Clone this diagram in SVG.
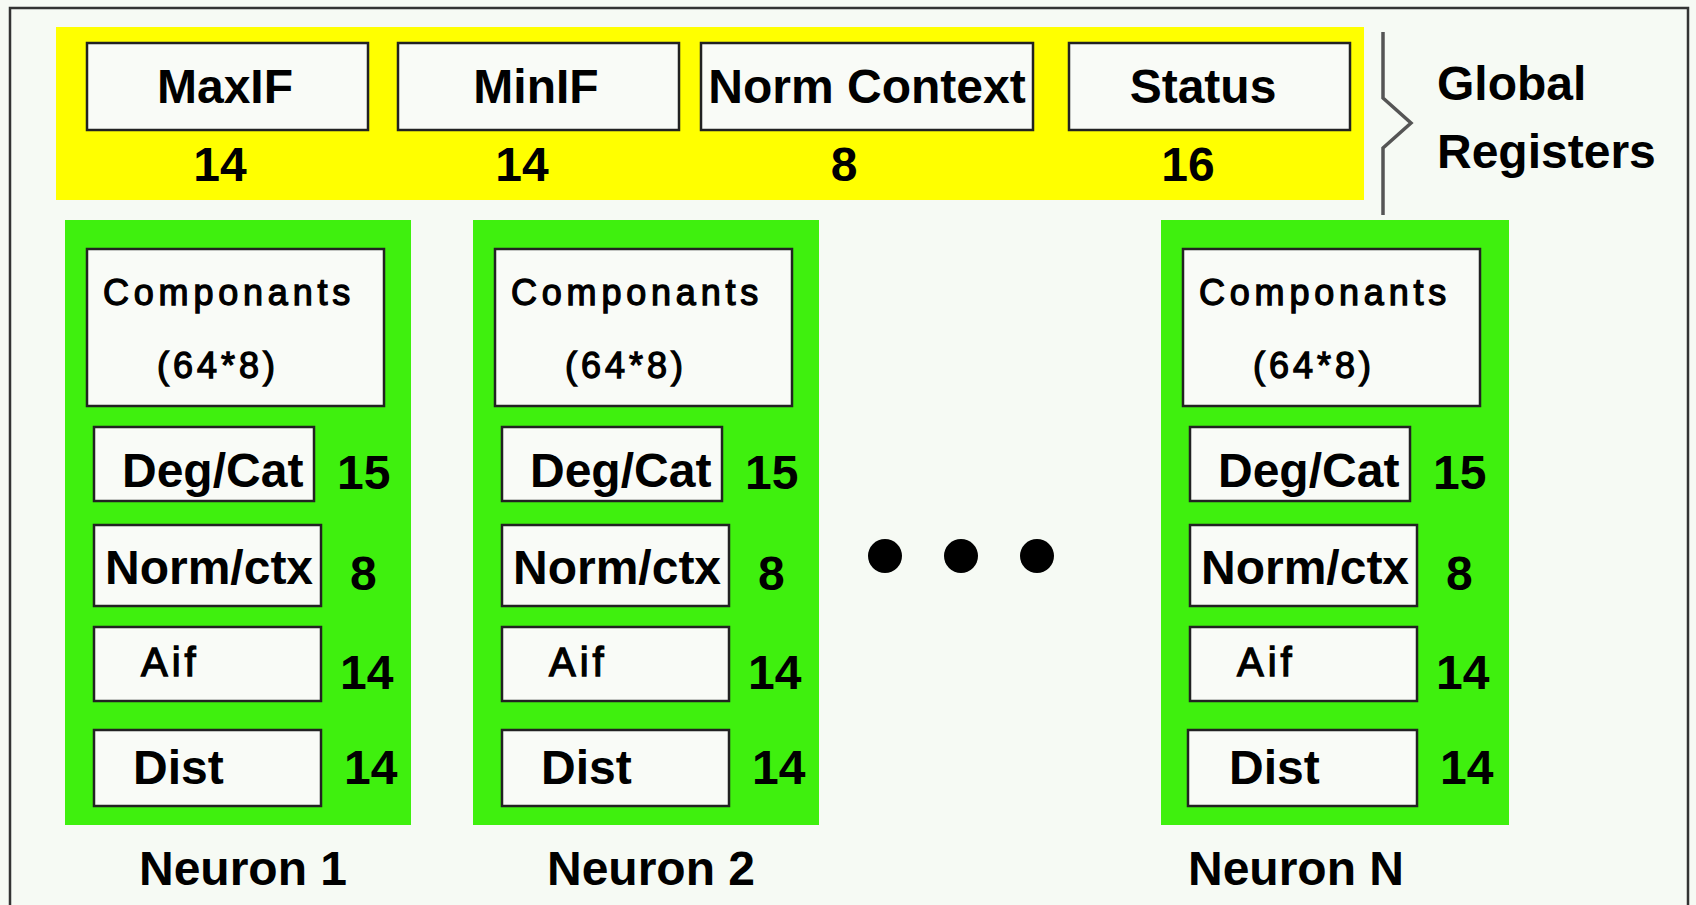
<svg xmlns="http://www.w3.org/2000/svg" width="1696" height="905" viewBox="0 0 1696 905">
<defs>
<style>
.bg{fill:#f6faf4}
.frame{fill:none;stroke:#333;stroke-width:2.5}
.band{fill:#ffff00}
.reg{fill:#f9fbf7;stroke:#222;stroke-width:2.5}
.green{fill:#3ff00e}
.box{fill:#f9fbf7;stroke:#222;stroke-width:2.5}
.t{font-family:"Liberation Sans",Arial,sans-serif;font-weight:bold;font-size:48px;fill:#000}
.tl{font-family:"Liberation Sans",Arial,sans-serif;font-weight:normal;fill:#000;stroke:#000;stroke-width:1.3}
.brk{fill:none;stroke:#555;stroke-width:3.5}
</style>
</defs>
<rect class="bg" x="0" y="0" width="1696" height="905"/>
<rect class="frame" x="10" y="8" width="1678" height="910"/>

<g id="global-registers">
<rect class="band" x="56" y="27" width="1308" height="173"/>
<g id="maxif"><rect class="reg" x="87" y="43" width="281" height="87"/><text class="t" x="225" y="103" text-anchor="middle">MaxIF</text><text class="t" x="220" y="181" text-anchor="middle">14</text></g>
<g id="minif"><rect class="reg" x="398" y="43" width="281" height="87"/><text class="t" x="536" y="103" text-anchor="middle">MinIF</text><text class="t" x="522" y="181" text-anchor="middle">14</text></g>
<g id="normcontext"><rect class="reg" x="701" y="43" width="332" height="87"/><text class="t" x="867" y="103" text-anchor="middle">Norm Context</text><text class="t" x="844" y="181" text-anchor="middle">8</text></g>
<g id="status"><rect class="reg" x="1069" y="43" width="281" height="87"/><text class="t" x="1203" y="103" text-anchor="middle">Status</text><text class="t" x="1188" y="181" text-anchor="middle">16</text></g>
</g>

<g id="connectors">
<polyline class="brk" points="1383,32 1383,98 1411,123 1383,148 1383,215"/>
</g>

<g id="global-label">
<text class="t" x="1437" y="100">Global</text>
<text class="t" x="1437" y="168">Registers</text>
</g>

<g id="neuron1">
<rect class="green" x="65" y="220" width="346" height="605"/>
<rect class="box" x="87" y="249" width="297" height="157"/>
<text class="tl" x="103" y="305" font-size="36" letter-spacing="4.8">Componants</text>
<text class="tl" x="157" y="378" font-size="36" letter-spacing="4">(64*8)</text>
<rect class="box" x="94" y="427" width="220" height="74"/>
<text class="t" x="122" y="487">Deg/Cat</text>
<text class="t" x="337" y="489">15</text>
<rect class="box" x="94" y="525" width="227" height="81"/>
<text class="t" x="105" y="584">Norm/ctx</text>
<text class="t" x="350" y="590">8</text>
<rect class="box" x="94" y="627" width="227" height="74"/>
<text class="tl" x="141" y="676" font-size="40" letter-spacing="4">Aif</text>
<text class="t" x="340" y="689">14</text>
<rect class="box" x="94" y="730" width="227" height="76"/>
<text class="t" x="133" y="784">Dist</text>
<text class="t" x="344" y="784">14</text>
<text class="t" x="139" y="885">Neuron 1</text>
</g>

<g id="neuron2" transform="translate(408,0)">
<rect class="green" x="65" y="220" width="346" height="605"/>
<rect class="box" x="87" y="249" width="297" height="157"/>
<text class="tl" x="103" y="305" font-size="36" letter-spacing="4.8">Componants</text>
<text class="tl" x="157" y="378" font-size="36" letter-spacing="4">(64*8)</text>
<rect class="box" x="94" y="427" width="220" height="74"/>
<text class="t" x="122" y="487">Deg/Cat</text>
<text class="t" x="337" y="489">15</text>
<rect class="box" x="94" y="525" width="227" height="81"/>
<text class="t" x="105" y="584">Norm/ctx</text>
<text class="t" x="350" y="590">8</text>
<rect class="box" x="94" y="627" width="227" height="74"/>
<text class="tl" x="141" y="676" font-size="40" letter-spacing="4">Aif</text>
<text class="t" x="340" y="689">14</text>
<rect class="box" x="94" y="730" width="227" height="76"/>
<text class="t" x="133" y="784">Dist</text>
<text class="t" x="344" y="784">14</text>
<text class="t" x="139" y="885">Neuron 2</text>
</g>

<g id="ellipsis">
<circle cx="885" cy="556" r="17" fill="#000"/>
<circle cx="961" cy="556" r="17" fill="#000"/>
<circle cx="1037" cy="556" r="17" fill="#000"/>
</g>

<g id="neuronN" transform="translate(1096,0)">
<rect class="green" x="65" y="220" width="348" height="605"/>
<rect class="box" x="87" y="249" width="297" height="157"/>
<text class="tl" x="103" y="305" font-size="36" letter-spacing="4.8">Componants</text>
<text class="tl" x="157" y="378" font-size="36" letter-spacing="4">(64*8)</text>
<rect class="box" x="94" y="427" width="220" height="74"/>
<text class="t" x="122" y="487">Deg/Cat</text>
<text class="t" x="337" y="489">15</text>
<rect class="box" x="94" y="525" width="227" height="81"/>
<text class="t" x="105" y="584">Norm/ctx</text>
<text class="t" x="350" y="590">8</text>
<rect class="box" x="94" y="627" width="227" height="74"/>
<text class="tl" x="141" y="676" font-size="40" letter-spacing="4">Aif</text>
<text class="t" x="340" y="689">14</text>
<rect class="box" x="92" y="730" width="229" height="76"/>
<text class="t" x="133" y="784">Dist</text>
<text class="t" x="344" y="784">14</text>
<text class="t" x="92" y="885">Neuron N</text>
</g>
</svg>
